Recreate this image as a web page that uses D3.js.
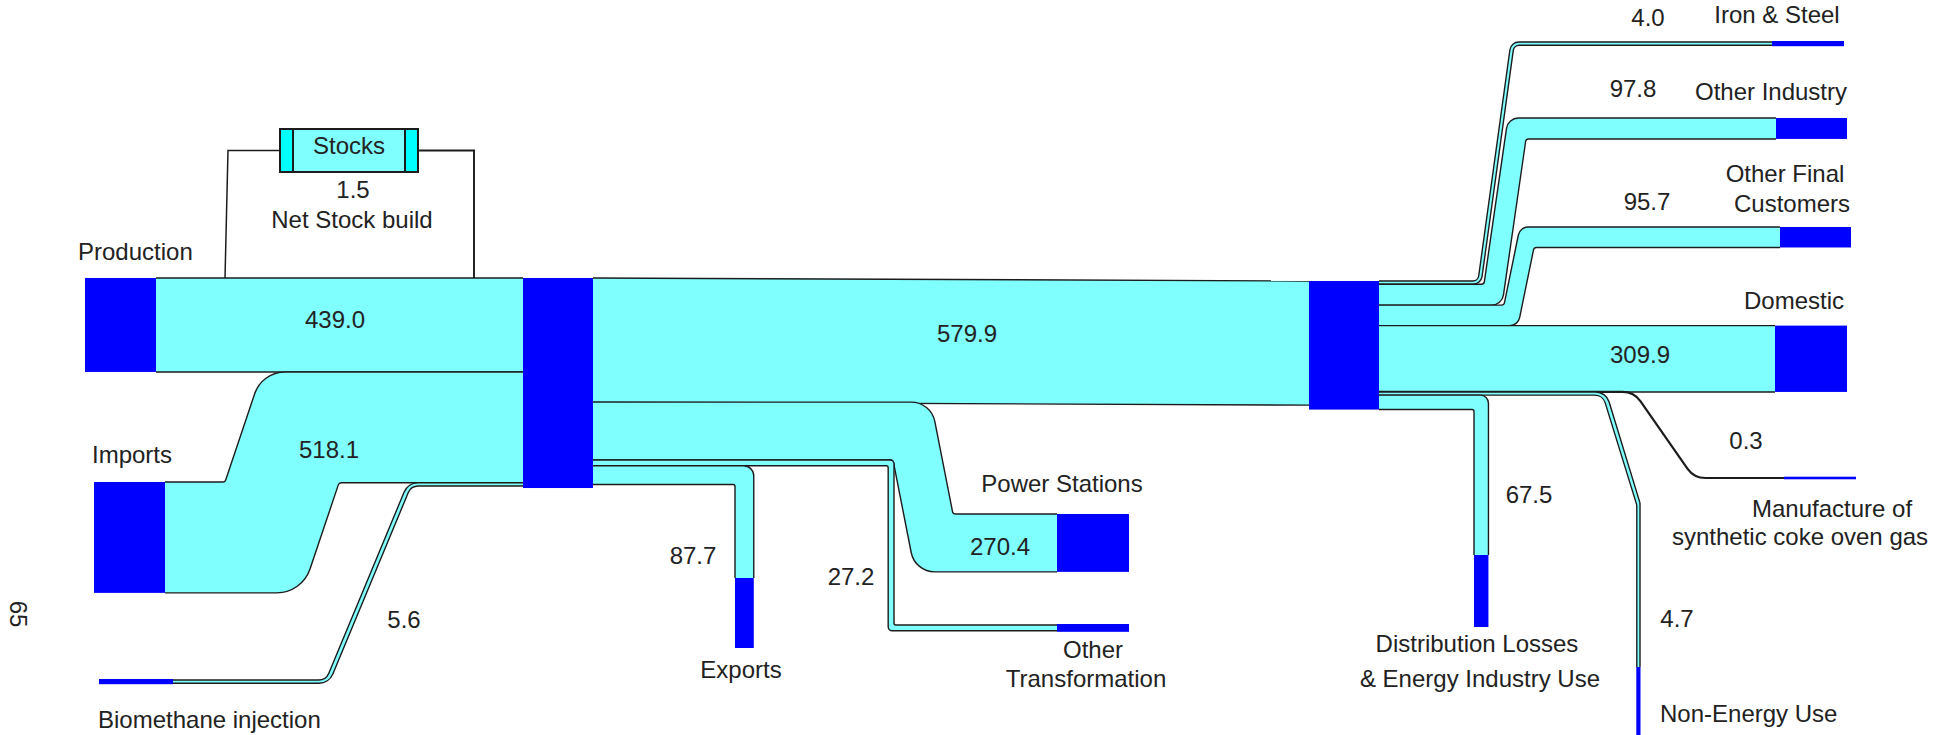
<!DOCTYPE html>
<html>
<head>
<meta charset="utf-8">
<script src="https://cdn.jsdelivr.net/npm/d3@7"></script>
<style>
  body { margin: 0; background: #fff; }
  svg { display: block; }
  text { font-family: "Liberation Sans", Arial, sans-serif; font-size: 24px; fill: #222; }
</style>
</head>
<body>
<svg id="chart" width="1933" height="735"></svg>
<script>
// ---------------- data ----------------
const supplyNames = ["Production", "Imports", "Biomethane injection"];
const supplyValues = [439.0, 518.1, 5.6];
const stockNames = ["Stocks", "Net Stock build"];
const stockValues = [1.5];
const transferNames = ["Transmission", "Power Stations", "Other\nTransformation", "Exports"];
const transferValues = [579.9, 270.4, 27.2, 87.7];
const useNames = ["Iron & Steel", "Other Industry", "Other Final\nCustomers", "Domestic",
  "Manufacture of\nsynthetic coke oven gas", "Non-Energy Use", "Distribution Losses\n& Energy Industry Use"];
const useValues = [4.0, 97.8, 95.7, 309.9, 0.3, 4.7, 67.5];
const pageLabel = "65";

// ---------------- scales & helpers ----------------
const widthScale = d3.scaleLinear().domain([0, 100]).range([0, 21.4]);
const MIN_PIPE = 3.2;
const dw = v => v < 1 ? 0 : Math.max(MIN_PIPE, widthScale(v));
const fmt = d3.format(".1f");

const CYAN = "#80ffff", BLUE = "#0000ff", EDGE = "#1c1c1c", CAP = "#00ffff";
const svg = d3.select("#chart");
const gLinks = svg.append("g");
const gNodes = svg.append("g");
const gText = svg.append("g");

function trace(p, pts, radii, first) {
  if (first) p.moveTo(pts[0][0], pts[0][1]); else p.lineTo(pts[0][0], pts[0][1]);
  for (let i = 1; i < pts.length - 1; i++) {
    p.arcTo(pts[i][0], pts[i][1], pts[i + 1][0], pts[i + 1][1], radii[i - 1] || 0);
  }
  p.lineTo(pts[pts.length - 1][0], pts[pts.length - 1][1]);
}
function edgeD(pts, radii) { const p = d3.path(); trace(p, pts, radii, true); return p.toString(); }
function bandD(top, rt, bot, rb) {
  const p = d3.path();
  trace(p, top, rt, true);
  trace(p, bot.slice().reverse(), rb.slice().reverse(), false);
  p.closePath();
  return p.toString();
}
function drawLink(top, rt, bot, rb) {
  gLinks.append("path").attr("d", bandD(top, rt, bot, rb)).attr("fill", CYAN);
  [[top, rt], [bot, rb]].forEach(([pts, r]) =>
    gLinks.append("path").attr("d", edgeD(pts, r)).attr("fill", "none")
      .attr("stroke", EDGE).attr("stroke-width", 1.4));
}
// shifted band: horizontal, slanted transition, horizontal
function shiftLink(x0, y0, x1, y1, w, L) {
  const top = [[x0, y0], [L.tb[0], y0], [L.tb[1], y1], [x1, y1]];
  const bot = [[x0, y0 + w], [L.bb[0], y0 + w], [L.bb[1], y1 + w], [x1, y1 + w]];
  drawLink(top, L.rt, bot, L.rb);
}
function node(x, y, w, h) {
  gNodes.append("rect").attr("x", x).attr("y", y).attr("width", w).attr("height", h).attr("fill", BLUE);
}
function hNode(x, y, len, w) { // horizontal end node, thin ones get a visible thickness
  const t = w < 6 ? w + 2 : w, o = w < 6 ? -1 : 0;
  node(x, y + o, len, t);
}
function label(txt, L) {
  const lines = txt.split("\n");
  lines.forEach((s, i) => {
    const pos = L[i];
    gText.append("text").attr("x", pos.x).attr("y", pos.y)
      .attr("text-anchor", pos.anchor || "middle").text(s);
  });
}

// ---------------- layout (positions only) ----------------
const hub1 = { x: 523, y: 278, w: 70 };
const hub2 = { x: 1309, y: 281, w: 70 };

const supplyLayout = [
  { node: [85, 278, 71], name: [{ x: 78, y: 260, anchor: "start" }], value: { x: 335, y: 328 } },
  { node: [94, 482, 71], bend: { tb: [225, 262], bb: [302, 339], rt: [3, 32], rb: [35, 3] },
    name: [{ x: 92, y: 463, anchor: "start" }], value: { x: 329, y: 458 } },
  { node: [99, 680, 74], bend: { tb: [326, 408], bb: [329, 411], rt: [11, 15], rb: [15, 11] },
    name: [{ x: 98, y: 728, anchor: "start" }], value: { x: 404, y: 628 } }
];

const transferLayout = [
  { kind: "hub", value: { x: 967, y: 342 } },
  { kind: "shift", node: [1057, 514, 72], bend: { tb: [931, 953], bb: [893, 915], rt: [24, 3], rb: [3, 24] },
    name: [{ x: 1062, y: 492 }], value: { x: 1000, y: 555 } },
  { kind: "step", node: [1057, 625, 72], xOuter: 894,
    name: [{ x: 1093, y: 658 }, { x: 1086, y: 687 }], value: { x: 851, y: 585 } },
  { kind: "down", xLeft: 735, nodeY: 578, nodeH: 70,
    name: [{ x: 741, y: 678 }], value: { x: 693, y: 564 } }
];

const useLayout = [
  { kind: "shift", node: [1772, 42, 72], bend: { tb: [1478, 1511], bb: [1481, 1514], rt: [6, 9], rb: [9, 6] },
    name: [{ x: 1777, y: 23 }], value: { x: 1648, y: 26 } },
  { kind: "shift", node: [1776, 118, 71], bend: { tb: [1484, 1508], bb: [1502, 1526], rt: [3, 12], rb: [12, 3] },
    name: [{ x: 1771, y: 100 }], value: { x: 1633, y: 97 } },
  { kind: "shift", node: [1780, 227, 71], bend: { tb: [1504, 1520], bb: [1518, 1534], rt: [3, 10], rb: [10, 3] },
    name: [{ x: 1785, y: 182 }, { x: 1792, y: 212 }], value: { x: 1647, y: 210 } },
  { kind: "straight", node: [1775, null, 72], name: [{ x: 1794, y: 309 }], value: { x: 1640, y: 363 } },
  { kind: "line", node: [1784, 478, 72], bends: [1634, 1694], r: [22, 22],
    name: [{ x: 1832, y: 517 }, { x: 1800, y: 545 }], value: { x: 1746, y: 449 } },
  { kind: "drop", xRight: 1640, diag: [1606, 503], nodeY: 667, nodeH: 68,
    name: [{ x: 1660, y: 722, anchor: "start" }], value: { x: 1677, y: 627 } },
  { kind: "down", xLeft: 1474, nodeY: 555, nodeH: 72,
    name: [{ x: 1477, y: 652 }, { x: 1480, y: 687 }], value: { x: 1529, y: 503 } }
];

// ---------------- stocks ----------------
(function drawStocks() {
  const box = { x: 280, y: 129, w: 138, h: 43, cap: 13 };
  const midY = box.y + box.h / 2;
  const sw = Math.max(1.4, widthScale(stockValues[0]) * 6);
  gLinks.append("path").attr("d", edgeD([[225, hub1.y], [228, midY], [box.x, midY]], [0]))
    .attr("fill", "none").attr("stroke", EDGE).attr("stroke-width", 1.5);
  gLinks.append("path").attr("d", edgeD([[box.x + box.w, midY], [474, midY], [474, hub1.y]], [0]))
    .attr("fill", "none").attr("stroke", EDGE).attr("stroke-width", sw);
  const g = svg.append("g");
  g.append("rect").attr("x", box.x).attr("y", box.y).attr("width", box.w).attr("height", box.h)
    .attr("fill", CYAN).attr("stroke", EDGE).attr("stroke-width", 2);
  [box.x, box.x + box.w - box.cap].forEach(cx =>
    g.append("rect").attr("x", cx).attr("y", box.y).attr("width", box.cap).attr("height", box.h)
      .attr("fill", CAP).attr("stroke", EDGE).attr("stroke-width", 2));
  g.append("text").attr("x", box.x + box.w / 2).attr("y", 154).attr("text-anchor", "middle").text(stockNames[0]);
  gText.append("text").attr("x", 353).attr("y", 198).attr("text-anchor", "middle").text(fmt(stockValues[0]));
  gText.append("text").attr("x", 352).attr("y", 228).attr("text-anchor", "middle").text(stockNames[1]);
})();

// ---------------- supply -> hub1 ----------------
let cur = hub1.y;
const inHeights = supplyValues.map(dw);
supplyValues.forEach((v, i) => {
  const L = supplyLayout[i], w = inHeights[i];
  const [nx, ny, nl] = L.node;
  const y1 = cur;
  if (!L.bend) {
    drawLink([[nx + nl, y1], [hub1.x, y1]], [], [[nx + nl, y1 + w], [hub1.x, y1 + w]], []);
  } else {
    shiftLink(nx + nl, ny, hub1.x, y1, w, L.bend);
  }
  if (w < 6) hNode(nx, ny, nl, w); else node(nx, ny, nl, w);
  label(supplyNames[i], L.name);
  gText.append("text").attr("x", L.value.x).attr("y", L.value.y).attr("text-anchor", "middle").text(fmt(v));
  cur += w;
});
const hub1In = cur - hub1.y;

// ---------------- hub1 -> transfers ----------------
cur = hub1.y;
const x0 = hub1.x + hub1.w;
let transW = 0;
transferValues.forEach((v, i) => {
  const L = transferLayout[i], w = dw(v), y0 = cur;
  if (L.kind === "hub") {
    transW = w;
    drawLink([[x0, y0], [hub2.x, hub2.y]], [], [[x0, y0 + w], [hub2.x, hub2.y + w]], []);
  } else if (L.kind === "shift") {
    const [nx, ny, nl] = L.node;
    shiftLink(x0, y0, nx, ny, w, L.bend);
    node(nx, ny, nl, w);
  } else if (L.kind === "step") {
    const [nx, ny, nl] = L.node, xo = L.xOuter;
    drawLink([[x0, y0], [xo, y0], [xo, ny], [nx, ny]], [4, 2],
             [[x0, y0 + w], [xo - w, y0 + w], [xo - w, ny + w], [nx, ny + w]], [2, 4]);
    hNode(nx, ny, nl, w);
  } else if (L.kind === "down") {
    const xl = L.xLeft;
    drawLink([[x0, y0], [xl + w, y0], [xl + w, L.nodeY]], [10],
             [[x0, y0 + w], [xl, y0 + w], [xl, L.nodeY]], [2]);
    node(xl, L.nodeY, w, L.nodeH);
  }
  if (L.name) label(transferNames[i], L.name);
  gText.append("text").attr("x", L.value.x).attr("y", L.value.y).attr("text-anchor", "middle").text(fmt(v));
  cur += w;
});
const hub1Out = cur - hub1.y;
node(hub1.x, hub1.y, hub1.w, Math.max(hub1In, hub1Out) + 2);

// ---------------- hub2 -> final uses ----------------
cur = hub2.y;
const x2 = hub2.x + hub2.w;
useValues.forEach((v, i) => {
  const L = useLayout[i], w = dw(v), y0 = cur;
  if (L.kind === "shift") {
    const [nx, ny, nl] = L.node;
    shiftLink(x2, y0, nx, ny, w, L.bend);
    hNode(nx, ny, nl, w);
  } else if (L.kind === "straight") {
    const [nx, , nl] = L.node;
    drawLink([[x2, y0], [nx, y0]], [], [[x2, y0 + w], [nx, y0 + w]], []);
    node(nx, y0, nl, w);
  } else if (L.kind === "line") {
    const [nx, ny, nl] = L.node;
    gLinks.append("path")
      .attr("d", edgeD([[x2, y0], [L.bends[0], y0], [L.bends[1], ny], [nx, ny]], L.r))
      .attr("fill", "none").attr("stroke", EDGE).attr("stroke-width", 2.2);
    node(nx, ny - 1.3, nl, 2.6);
  } else if (L.kind === "drop") {
    const xr = L.xRight, [dx, dy] = L.diag;
    drawLink([[x2, y0], [dx, y0], [xr, dy], [xr, L.nodeY]], [14, 6],
             [[x2, y0 + w], [dx - w, y0 + w], [xr - w, dy + 2], [xr - w, L.nodeY]], [11, 8]);
    node(xr - w - 0.5, L.nodeY, w + 1, L.nodeH);
  } else if (L.kind === "down") {
    const xl = L.xLeft;
    drawLink([[x2, y0], [xl + w, y0], [xl + w, L.nodeY]], [8],
             [[x2, y0 + w], [xl, y0 + w], [xl, L.nodeY]], [2]);
    node(xl, L.nodeY, w, L.nodeH);
  }
  label(useNames[i], L.name);
  gText.append("text").attr("x", L.value.x).attr("y", L.value.y).attr("text-anchor", "middle").text(fmt(v));
  cur += w;
});
node(hub2.x, hub2.y, hub2.w, Math.max(cur - hub2.y, transW));

// ---------------- page number ----------------
gText.append("text").attr("transform", "translate(18,614) rotate(90)")
  .attr("text-anchor", "middle").attr("dominant-baseline", "central").text(pageLabel);
</script>
</body>
</html>
